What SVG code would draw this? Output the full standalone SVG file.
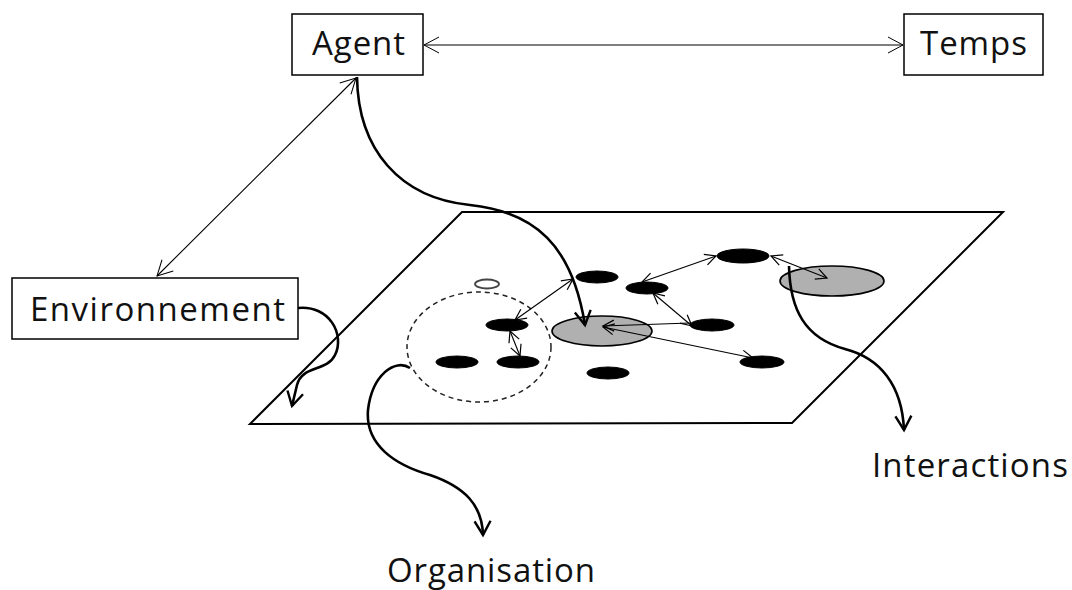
<svg xmlns="http://www.w3.org/2000/svg" width="1072" height="590" viewBox="0 0 1072 590">
<style>
.box{fill:#fff;stroke:#000;stroke-width:1.5}
.lbl{font-family:"Open Sans","Liberation Sans",sans-serif;font-size:33px;fill:#111}
.thin{fill:none;stroke:#000;stroke-width:1.1}
.thick{fill:none;stroke:#000;stroke-width:2.6}
.blk{fill:#000;stroke:#000;stroke-width:1}
.gry{fill:#b0b0b0;stroke:#000;stroke-width:1.6}
</style>
<defs>
<marker id="ah" markerUnits="userSpaceOnUse" markerWidth="20" markerHeight="20" refX="15" refY="8" orient="auto-start-reverse" overflow="visible"><path d="M0,0 L15,8 L0,16" fill="none" stroke="#000" stroke-width="1"/></marker>
<marker id="as" markerUnits="userSpaceOnUse" markerWidth="14" markerHeight="14" refX="11" refY="5.5" orient="auto-start-reverse" overflow="visible"><path d="M0,0 L11,5.5 L0,11" fill="none" stroke="#000" stroke-width="1.2"/></marker>
<marker id="at" markerUnits="userSpaceOnUse" markerWidth="20" markerHeight="20" refX="14" refY="8" orient="auto" overflow="visible"><path d="M0,0 L14,8 L0,16" fill="none" stroke="#000" stroke-width="2.4"/></marker>
</defs>
<rect width="1072" height="590" fill="#fff"/>
<g id="plane"><path d="M462,212 L1003,212 L792,423 L250,424 Z" fill="none" stroke="#000" stroke-width="2"/></g>
<g id="organisation-circle"><ellipse cx="479" cy="347" rx="72" ry="55" fill="none" stroke="#222" stroke-width="1.5" stroke-dasharray="5,4"/></g>
<g id="hollow-agent"><ellipse cx="487" cy="284" rx="12" ry="4.5" fill="#fff" stroke="#444" stroke-width="1.8"/></g>
<g id="n1"><ellipse class="blk" cx="597" cy="277" rx="21" ry="6"/></g>
<g id="n2"><ellipse class="blk" cx="647" cy="288" rx="21" ry="6"/></g>
<g id="n3"><ellipse class="blk" cx="507" cy="325" rx="21" ry="6"/></g>
<g id="n4"><ellipse class="blk" cx="457" cy="362" rx="21" ry="6"/></g>
<g id="n5"><ellipse class="blk" cx="518" cy="362" rx="21" ry="6"/></g>
<g id="n6"><ellipse class="blk" cx="608" cy="373" rx="21" ry="6"/></g>
<g id="n7"><ellipse class="blk" cx="712" cy="325" rx="22" ry="6"/></g>
<g id="n8"><ellipse class="blk" cx="762" cy="362" rx="22" ry="6"/></g>
<g id="n9"><ellipse class="blk" cx="743" cy="256" rx="26" ry="7"/></g>
<g id="g1"><ellipse class="gry" cx="602" cy="331" rx="50" ry="15"/></g>
<g id="g2"><ellipse class="gry" cx="832" cy="281" rx="52" ry="15"/></g>
<g id="agent"><rect class="box" x="292" y="14" width="131" height="61"/><text class="lbl" x="312" y="55" textLength="93">Agent</text></g>
<g id="temps"><rect class="box" x="904" y="14" width="139" height="61"/><text class="lbl" x="920" y="55" textLength="107">Temps</text></g>
<g id="environnement"><rect class="box" x="12" y="278" width="286" height="61"/><text class="lbl" x="30" y="321" textLength="255">Environnement</text></g>
<g id="interactions"><text class="lbl" x="872" y="477" textLength="196">Interactions</text></g>
<g id="organisation"><text class="lbl" x="387" y="582" textLength="208">Organisation</text></g>
<g id="connectors">
<line class="thin" x1="424" y1="45" x2="903" y2="45" marker-start="url(#ah)" marker-end="url(#ah)"/>
<line class="thin" x1="356" y1="78" x2="157" y2="276" marker-start="url(#ah)" marker-end="url(#ah)"/>
<line class="thin" x1="573" y1="279" x2="515" y2="320" marker-start="url(#as)" marker-end="url(#as)"/>
<line class="thin" x1="510" y1="331" x2="520" y2="356" marker-start="url(#as)" marker-end="url(#as)"/>
<line class="thin" x1="642" y1="282" x2="716" y2="256" marker-start="url(#as)" marker-end="url(#as)"/>
<line class="thin" x1="771" y1="256" x2="827" y2="278" marker-start="url(#as)" marker-end="url(#as)"/>
<line class="thin" x1="653" y1="293" x2="692" y2="326" marker-start="url(#as)" marker-end="url(#as)"/>
<line class="thin" x1="690" y1="323" x2="603" y2="326" marker-end="url(#as)"/>
<line class="thin" x1="753" y1="358" x2="603" y2="327" marker-start="url(#as)" marker-end="url(#as)"/>
<path class="thick" d="M357,77 C358,150 400,198 470,205 C535,212 572,245 585,325" marker-end="url(#at)"/>
<path class="thick" d="M298,308 C330,305 345,335 335,355 C327,372 302,365 297,385 L292,406" marker-end="url(#at)"/>
<path class="thick" d="M410,368 C395,358 372,375 368,410 C365,445 395,465 430,475 C465,487 482,505 483,535" marker-end="url(#at)"/>
<path class="thick" d="M789,266 C790,310 805,338 845,349 C880,358 902,385 904,430" marker-end="url(#at)"/>
</g>
</svg>
